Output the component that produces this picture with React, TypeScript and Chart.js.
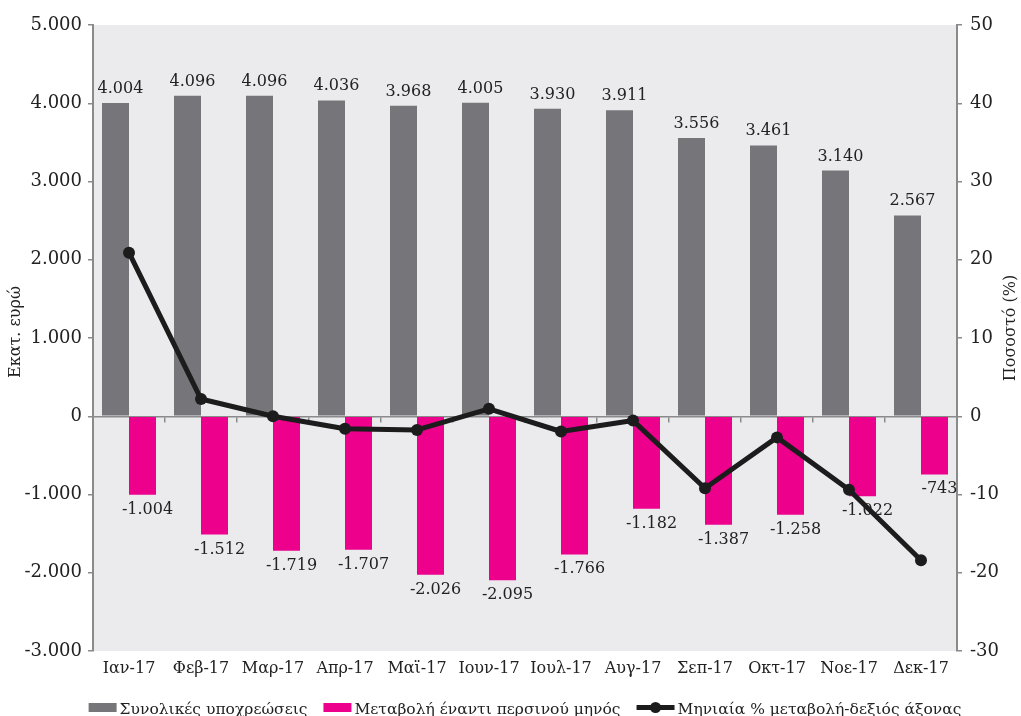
import React, { useEffect, useRef } from "react";
import { Chart, registerables } from "chart.js";

Chart.register(...registerables);

// ---- Data ----
const categories = ["Ιαν-17", "Φεβ-17", "Μαρ-17", "Απρ-17", "Μαϊ-17", "Ιουν-17", "Ιουλ-17", "Αυγ-17", "Σεπ-17", "Οκτ-17", "Νοε-17", "Δεκ-17"];
const totalLiabilities = [4004, 4096, 4096, 4036, 3968, 4005, 3930, 3911, 3556, 3461, 3140, 2567];
const yearlyChange = [-1004, -1512, -1719, -1707, -2026, -2095, -1766, -1182, -1387, -1258, -1022, -743];
const monthlyPctChange = [20.9, 2.2, 0.0, -1.6, -1.75, 0.95, -1.95, -0.55, -9.2, -2.7, -9.4, -18.4];
const seriesNames = ["Συνολικές υποχρεώσεις", "Μεταβολή έναντι περσινού μηνός", "Μηνιαία % μεταβολή-δεξιός άξονας"];
const leftAxisRange = [-3000, 5000, 1000];
const rightAxisRange = [-30, 50, 10];
const axisTitles = ["Εκατ. ευρώ", "Ποσοστό (%)"];

// ---- Styles ----
const FONT = '"DejaVu Serif", serif';
const TEXT = "#222222";
const GRAY = "#76767a";
const MAGENTA = "#ec008c";
const LINE = "#1c1c1c";
const AXIS = "#8a8a8a";
const PLOT_BG = "#ebebee";

function fmt(v: number): string {
  const s = Math.round(Math.abs(v)).toString().replace(/\B(?=(\d{3})+(?!\d))/g, ".");
  return (v < 0 ? "-" : "") + s;
}

const bgPlugin = {
  id: "bgPlugin",
  beforeDraw(chart: any) {
    const { ctx, chartArea: a, width, height } = chart;
    ctx.save();
    ctx.fillStyle = "#ffffff";
    ctx.fillRect(0, 0, width, height);
    ctx.fillStyle = PLOT_BG;
    ctx.fillRect(a.left, a.top, a.right - a.left, a.bottom - a.top);
    ctx.restore();
  },
};

const barLabelPlugin = {
  id: "barLabelPlugin",
  afterDatasetDraw(chart: any, args: any) {
    const meta = args.meta;
    if (meta.type !== "bar") return;
    const ds = chart.data.datasets[args.index];
    const ctx = chart.ctx;
    ctx.save();
    ctx.font = `16px ${FONT}`;
    ctx.fillStyle = TEXT;
    ctx.textAlign = "center";
    ctx.textBaseline = "alphabetic";
    meta.data.forEach((el: any, i: number) => {
      const v = ds.data[i] as number;
      const x = el.x + 5;
      const y = v >= 0 ? el.y - 10 : el.y + 19;
      ctx.fillText(fmt(v), x, y);
    });
    ctx.restore();
  },
};

const titleLegendPlugin = {
  id: "titleLegendPlugin",
  afterDraw(chart: any) {
    const ctx = chart.ctx;
    const a = chart.chartArea;
    ctx.save();
    ctx.fillStyle = TEXT;
    ctx.font = `16px ${FONT}`;
    ctx.textAlign = "center";
    ctx.textBaseline = "middle";
    // left title
    ctx.save();
    ctx.translate(16, (a.top + a.bottom) / 2 - 6);
    ctx.rotate(-Math.PI / 2);
    ctx.fillText(axisTitles[0], 0, 0);
    ctx.restore();
    // right title
    ctx.save();
    ctx.translate(chart.width - 10, (a.top + a.bottom) / 2 - 10);
    ctx.rotate(-Math.PI / 2);
    ctx.fillText(axisTitles[1], 0, 0);
    ctx.restore();

    // legend
    ctx.font = `15.5px ${FONT}`;
    ctx.textAlign = "left";
    ctx.textBaseline = "alphabetic";
    const markerW = [28, 28, 38];
    const gapMarker = 3;
    const gapItem = 16;
    const widths = seriesNames.map((n, i) => markerW[i] + gapMarker + ctx.measureText(n).width);
    const total = widths.reduce((s, w) => s + w, 0) + gapItem * (seriesNames.length - 1);
    let x = (a.left + a.right) / 2 - total / 2;
    const cy = 707.5;
    const colors = [GRAY, MAGENTA, LINE];
    seriesNames.forEach((n, i) => {
      if (i < 2) {
        ctx.fillStyle = colors[i];
        ctx.fillRect(x, cy - 4.5, markerW[i], 9);
      } else {
        ctx.strokeStyle = LINE;
        ctx.lineWidth = 5;
        ctx.beginPath();
        ctx.moveTo(x, cy);
        ctx.lineTo(x + markerW[i], cy);
        ctx.stroke();
        ctx.fillStyle = LINE;
        ctx.beginPath();
        ctx.arc(x + markerW[i] / 2, cy, 5.5, 0, Math.PI * 2);
        ctx.fill();
      }
      ctx.fillStyle = TEXT;
      ctx.fillText(n, x + markerW[i] + gapMarker, cy + 6);
      x += widths[i] + gapItem;
    });
    ctx.restore();
  },
};

export default function App() {
  const ref = useRef<HTMLCanvasElement | null>(null);

  useEffect(() => {
    if (!ref.current) return;
    const chart = new Chart(ref.current, {
      type: "bar",
      data: {
        labels: categories,
        datasets: [
          {
            type: "bar",
            label: seriesNames[0],
            data: totalLiabilities,
            yAxisID: "y",
            xAxisID: "x",
            backgroundColor: GRAY,
            categoryPercentage: 0.75,
            barPercentage: 1.0,
            order: 1,
          },
          {
            type: "bar",
            label: seriesNames[1],
            data: yearlyChange,
            yAxisID: "y",
            xAxisID: "x",
            backgroundColor: MAGENTA,
            categoryPercentage: 0.75,
            barPercentage: 1.0,
            order: 2,
          },
          {
            type: "line",
            label: seriesNames[2],
            data: monthlyPctChange,
            yAxisID: "y1",
            xAxisID: "x",
            borderColor: LINE,
            backgroundColor: LINE,
            borderWidth: 5,
            borderJoinStyle: "round",
            pointRadius: 6,
            pointBackgroundColor: LINE,
            pointBorderColor: LINE,
            pointBorderWidth: 0,
            tension: 0,
            order: 0,
          } as any,
        ],
      },
      options: {
        responsive: false,
        animation: false,
        layout: { padding: { top: 25, left: 0, right: 0, bottom: 0 } },
        plugins: {
          legend: { display: false },
          tooltip: { enabled: false },
        },
        scales: {
          x: {
            type: "category",
            position: "bottom",
            offset: true,
            grid: { display: false, drawTicks: false },
            border: { display: false },
            ticks: {
              font: { family: FONT, size: 16 },
              color: TEXT,
              padding: 8,
              maxRotation: 0,
              autoSkip: false,
            },
            afterFit(scale: any) {
              scale.height = 65;
            },
          },
          xZero: {
            type: "category",
            axis: "x",
            position: { y: 0 } as any,
            offset: true,
            grid: {
              display: true,
              drawOnChartArea: false,
              drawTicks: true,
              tickLength: 5,
              color: AXIS,
              lineWidth: 1.5,
              offset: true,
            },
            border: { display: true, color: AXIS, width: 1.5 },
            ticks: { display: false },
          } as any,
          y: {
            type: "linear",
            position: "left",
            min: leftAxisRange[0],
            max: leftAxisRange[1],
            grid: { drawOnChartArea: false, drawTicks: true, tickLength: 5, color: AXIS, lineWidth: 1.5 },
            border: { display: true, color: AXIS, width: 2 },
            ticks: {
              stepSize: leftAxisRange[2],
              font: { family: FONT, size: 18 },
              color: TEXT,
              padding: 6,
              callback: (v: any) => fmt(Number(v)),
            },
            afterFit(scale: any) {
              scale.width = 93;
            },
          },
          y1: {
            type: "linear",
            position: "right",
            min: rightAxisRange[0],
            max: rightAxisRange[1],
            grid: { drawOnChartArea: false, drawTicks: true, tickLength: 5, color: AXIS, lineWidth: 1.5 },
            border: { display: true, color: AXIS, width: 2 },
            ticks: {
              stepSize: rightAxisRange[2],
              font: { family: FONT, size: 18 },
              color: TEXT,
              padding: 8,
              callback: (v: any) => fmt(Number(v)),
            },
            afterFit(scale: any) {
              scale.width = 64;
            },
          },
        },
      } as any,
      plugins: [bgPlugin, barLabelPlugin, titleLegendPlugin],
    });
    return () => chart.destroy();
  }, []);

  return (
    <div style={{ position: "fixed", left: 0, top: 0, width: 1021, height: 716, background: "#fff" }}>
      <canvas ref={ref} width={1021} height={716} style={{ display: "block" }} />
    </div>
  );
}
